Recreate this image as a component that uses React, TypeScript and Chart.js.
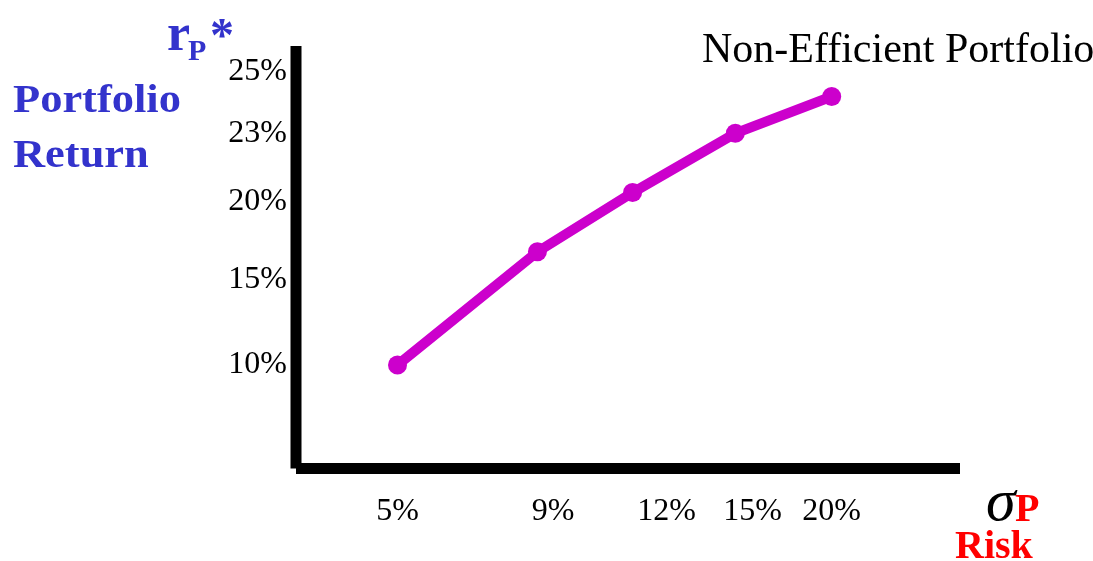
import React, { useEffect, useRef } from 'react';
import { Chart, LinearScale, registerables } from 'chart.js';

Chart.register(...registerables);

// ---- data ----
const riskValues = [5, 8.6, 11.1, 14.4, 20];
const returnValues = [10, 16.8, 20.4, 23, 24.2];
const xTickValues = [5, 9, 12, 15, 20];
const xTickLabels = ['5%', '9%', '12%', '15%', '20%'];
const yTickValues = [10, 15, 20, 23, 25];
const yTickLabels = ['10%', '15%', '20%', '23%', '25%'];

// ---- axis layout: the slide's axes are not drawn to a linear scale ----
const AXIS_KNOTS: Record<string, { v: number[]; f: number[] }> = {
  x: { v: [2, 5, 9, 12, 15, 20, 30], f: [0, 0.15286, 0.38705, 0.55828, 0.6875, 0.80678, 1] },
  y: { v: [4, 10, 15, 20, 23, 25, 26], f: [0, 0.24497, 0.44615, 0.63148, 0.79337, 0.93846, 1] },
};

function interp(xs: number[], ys: number[], x: number) {
  if (x <= xs[0]) return ys[0] + ((x - xs[0]) * (ys[1] - ys[0])) / (xs[1] - xs[0]);
  for (let i = 1; i < xs.length; i++) {
    if (x <= xs[i]) return ys[i - 1] + ((x - xs[i - 1]) * (ys[i] - ys[i - 1])) / (xs[i] - xs[i - 1]);
  }
  const n = xs.length - 1;
  return ys[n] + ((x - xs[n]) * (ys[n] - ys[n - 1])) / (xs[n] - xs[n - 1]);
}

class PiecewiseScale extends LinearScale {
  static id = 'piecewise';
  static defaults = LinearScale.defaults;
  getPixelForValue(value: number) {
    const k = AXIS_KNOTS[(this as any).id];
    return (this as any).getPixelForDecimal(interp(k.v, k.f, value));
  }
  getValueForPixel(pixel: number) {
    const k = AXIS_KNOTS[(this as any).id];
    return interp(k.f, k.v, (this as any).getDecimalForPixel(pixel));
  }
}
Chart.register(PiecewiseScale as any);

const SERIF = "'Liberation Serif', 'Times New Roman', serif";
const MAGENTA = '#CC00CC';
const BLUE = '#3333CC';
const RED = '#FF0000';

const axisLines = {
  id: 'axisLines',
  beforeDatasetsDraw(chart: any) {
    const { ctx, chartArea } = chart;
    ctx.save();
    ctx.strokeStyle = '#000';
    ctx.lineWidth = 11;
    ctx.lineCap = 'butt';
    ctx.beginPath();
    ctx.moveTo(chartArea.left, chartArea.top);
    ctx.lineTo(chartArea.left, chartArea.bottom);
    ctx.stroke();
    ctx.beginPath();
    ctx.moveTo(chartArea.left, chartArea.bottom);
    ctx.lineTo(chartArea.right, chartArea.bottom);
    ctx.stroke();
    ctx.restore();
  },
};

export default function App() {
  const canvasRef = useRef<HTMLCanvasElement | null>(null);

  useEffect(() => {
    if (!canvasRef.current) return;
    const chart = new Chart(canvasRef.current, {
      type: 'line',
      data: {
        datasets: [
          {
            data: riskValues.map((x, i) => ({ x, y: returnValues[i] })),
            borderColor: MAGENTA,
            backgroundColor: MAGENTA,
            borderWidth: 10,
            pointRadius: 9.5,
            pointBackgroundColor: MAGENTA,
            pointBorderWidth: 0,
            tension: 0,
            clip: false as any,
          },
        ],
      },
      options: {
        animation: false,
        responsive: false,
        events: [],
        layout: { padding: { left: 0, top: 46, right: 133, bottom: 0 } },
        plugins: { legend: { display: false }, tooltip: { enabled: false }, title: { display: false } },
        scales: {
          x: {
            type: 'piecewise' as any,
            min: 2,
            max: 30,
            grid: { display: false, drawTicks: false },
            border: { display: false },
            afterBuildTicks: (scale: any) => {
              scale.ticks = xTickValues.map((v) => ({ value: v }));
            },
            afterFit: (scale: any) => {
              scale.height = 92.5;
              scale.paddingLeft = 0;
              scale.paddingRight = 0;
            },
            ticks: {
              autoSkip: false,
              maxRotation: 0,
              padding: 24,
              color: '#000',
              font: { family: SERIF, size: 32 },
              callback: (_v: any, i: number) => xTickLabels[i],
            },
          } as any,
          y: {
            type: 'piecewise' as any,
            min: 4,
            max: 26,
            grid: { display: false, drawTicks: false },
            border: { display: false },
            afterBuildTicks: (scale: any) => {
              scale.ticks = yTickValues.map((v) => ({ value: v }));
            },
            afterFit: (scale: any) => {
              scale.width = 296;
              scale.paddingTop = 0;
              scale.paddingBottom = 0;
            },
            ticks: {
              autoSkip: false,
              padding: 9,
              color: '#000',
              font: { family: SERIF, size: 32 },
              callback: (_v: any, i: number) => yTickLabels[i],
            },
          } as any,
        },
      },
      plugins: [axisLines],
    });
    return () => chart.destroy();
  }, []);

  const span = (style: React.CSSProperties): React.CSSProperties => ({
    position: 'absolute',
    whiteSpace: 'nowrap',
    lineHeight: 1,
    fontFamily: SERIF,
    ...style,
  });

  return (
    <div style={{ position: 'absolute', left: 0, top: 0, width: 1093, height: 561, background: '#fff', overflow: 'hidden' }}>
      <canvas ref={canvasRef} width={1093} height={561} style={{ position: 'absolute', left: 0, top: 0, width: 1093, height: 561 }} />
      <span style={span({ left: 702, top: 27, fontSize: 42, color: '#000' })}>Non-Efficient Portfolio</span>
      <span style={span({ left: 13, top: 79, fontSize: 39, fontWeight: 'bold', color: BLUE, transform: 'scaleX(1.14)', transformOrigin: 'left top' })}>Portfolio</span>
      <span style={span({ left: 13, top: 134, fontSize: 39, fontWeight: 'bold', color: BLUE, transform: 'scaleX(1.14)', transformOrigin: 'left top' })}>Return</span>
      <span style={span({ left: 167, top: 7, fontSize: 52, fontWeight: 'bold', color: BLUE })}>r</span>
      <span style={span({ left: 188, top: 35, fontSize: 30, fontWeight: 'bold', color: BLUE })}>P</span>
      <span style={span({ left: 210, top: 11, fontSize: 48, fontWeight: 'bold', color: BLUE })}>*</span>
      <span style={span({ left: 986, top: 470, fontSize: 60, fontStyle: 'italic', color: '#000' })}>σ</span>
      <span style={span({ left: 1015, top: 488, fontSize: 40, fontWeight: 'bold', color: RED })}>P</span>
      <span style={span({ left: 955, top: 525, fontSize: 40, fontWeight: 'bold', color: RED })}>Risk</span>
    </div>
  );
}
